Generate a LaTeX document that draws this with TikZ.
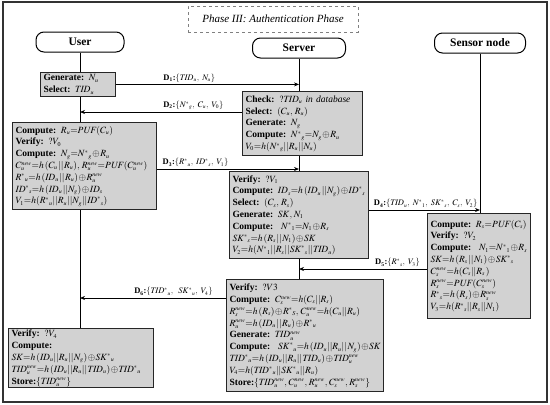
\documentclass[tikz,border=0pt]{standalone}
\usepackage{mathptmx}
\usepackage[no-math]{fontspec}
\setmainfont{Liberation Serif}
\usetikzlibrary{arrows.meta}
\DeclareMathSizes{9.5}{9.5}{6}{5}
\DeclareMathSizes{8.5}{8.5}{5.5}{4.5}
\newcommand{\bx}[1]{\textbf{#1}}
\newcommand{\mTID}{\mathit{TID}}
\newcommand{\mID}{\mathit{ID}}
\newcommand{\mPUF}{\mathit{PUF}}
\newcommand{\mSK}{\mathit{SK}}
\newcommand{\nw}{\mathit{new}}
\newcommand{\st}[2]{#1^{*}{}_{#2}}
\thickmuskip=1mu
\medmuskip=1mu
\begin{document}
\begin{tikzpicture}[x=1pt,y=-1pt,
  box/.style={draw=black!85, line width=1.2pt, fill=gray!35, anchor=north west,
    inner xsep=3pt, inner ysep=0pt, align=left, font=\fontsize{9.5}{11.8}\selectfont},
  actor/.style={draw, line width=1pt, rounded corners=8pt, minimum height=20pt,
    font=\fontsize{11.5}{13}\bfseries\selectfont},
  arr/.style={line width=0.8pt, -{Stealth[length=5pt,width=4pt]}},
  life/.style={line width=0.8pt},
  lbl/.style={font=\fontsize{8.5}{10}\selectfont, inner sep=1.5pt}]

\useasboundingbox (0,0) rectangle (550,405);
\draw[line width=1.2pt, draw=black!80] (3,2) rectangle (547,402);

\node[draw=gray, dashed, line width=0.8pt, minimum width=170pt, minimum height=26pt,
  font=\fontsize{11}{13}\itshape\selectfont] (title) at (273,19) {Phase III: Authentication Phase};

\node[actor, minimum width=88pt] (user) at (80,42) {User};
\node[actor, minimum width=93pt] (srv) at (299,48) {Server};
\node[actor, minimum width=91pt] (sen) at (480,43) {Sensor node};

\node[box, text width=69pt, minimum height=23pt] (U1) at (40,72) {\begin{tabular}{@{}l@{}}
\bx{Generate:} $N_u$\\
\bx{Select:} $\mTID_u$
\end{tabular}};

\node[box, text width=114pt, minimum height=64pt] (S1) at (242,91) {\begin{tabular}{@{}l@{}}
\bx{Check:} $?\mTID_u$ \textit{in database}\\
\bx{Select:} $(C_u,\, R_u)$\\
\bx{Generate:} $N_g$\\
\bx{Compute:} $\st{N}{g}{=}N_g\oplus R_u$\\
$V_0{=}h(\st{N}{g}||R_u||N_u)$
\end{tabular}};

\node[box, text width=138pt, minimum height=87pt] (U2) at (12,122) {\begin{tabular}{@{}l@{}}
\bx{Compute:} $R_u{=}\mPUF(C_u)$\\
\bx{Verify:} $?V_0$\\
\bx{Compute:} $N_g{=}\st{N}{g}\oplus R_u$\\
$C_u^{\nw}{=}h\,(C_u\;||\;R_u),\, R_u^{\nw}{=}\mPUF(C_u^{\nw})$\\
$\st{R}{u}{=}h\,(\mID_u\;||\;R_u)\oplus R_u^{\nw}$\\
$\st{\mID}{s}{=}h\,(\mID_u\;||N_g)\oplus \mID_s$\\
$V_1{=}h(\st{R}{u}||R_u||N_g||\st{\mID}{s})$
\end{tabular}};

\node[box, text width=133pt, minimum height=87pt] (S2) at (229,171) {\begin{tabular}{@{}l@{}}
\bx{Verify:} $?V_1$\\
\bx{Compute:} $\mID_s{=}h\,(\mID_u\;||N_g)\oplus \st{\mID}{s}$\\
\bx{Select:} $(C_s,\, R_s)$\\
\bx{Generate:} $\mSK,\; N_1$\\
\bx{Compute:} \ $\st{N}{1}{=}N_1\oplus R_s$\\
$\st{\mSK}{s}{=}h\,(R_s\;||\;N_1)\oplus \mSK$\\
$V_2{=}h(\st{N}{1}||R_s||\st{\mSK}{s}||\mTID_u)$
\end{tabular}};

\node[box, text width=97pt, minimum height=105pt] (N1) at (427,213) {\begin{tabular}{@{}l@{}}
\bx{Compute:} $R_s{=}\mPUF(C_s)$\\
\bx{Verify:} $?V_2$\\
\bx{Compute:} \ $N_1{=}\st{N}{1}\oplus R_s$\\
$\mSK{=}h\,(R_s\;||\;N_1)\oplus \st{\mSK}{s}$\\
$C_s^{\nw}{=}h(C_s||R_s\,)$\\
$R_s^{\nw}{=}\mPUF(C_s^{\nw})$\\
$\st{R}{s}{=}h\,(R_s)\oplus R_s^{\nw}$\\
$V_3{=}h(\st{R}{s}||R_s||N_1)$
\end{tabular}};

\node[box, text width=151pt, minimum height=112pt] (S3) at (226,279) {\begin{tabular}{@{}l@{}}
\bx{Verify:} $?V3$\\
\bx{Compute:} $C_s^{\nw}{=}h(C_s||R_s)$\\
$R_s^{\nw}{=}h\,(R_s)\oplus \st{R}{S},\, C_u^{\nw}{=}h(C_u||R_u)$\\
$R_u^{\nw}{=}h\,(\mID_u\;||\;R_u)\oplus \st{R}{u}$\\
\bx{Generate:} $\mTID_u^{\nw}$\\
\bx{Compute:} \ $\st{\mSK}{u}{=}h\,(\mID_u||R_u||\;N_g)\oplus \mSK$\\
$\st{\mTID}{u}{=}h\,(\mID_u||R_u||\;\mTID_u)\oplus \mTID_u^{\nw}$\\
$V_4{=}h(\st{\mTID}{u}||\st{\mSK}{u}||R_u)$\\
\bx{Store:}$\{\mTID_u^{\nw},\; C_u^{\nw},\; R_u^{\nw},\; C_s^{\nw},\; R_s^{\nw}\}$
\end{tabular}};

\node[box, text width=139pt, minimum height=59pt] (U3) at (8,328) {\begin{tabular}{@{}l@{}}
\bx{Verify:} $?V_4$\\
\bx{Compute:}\\
$\mSK{=}h\,(\mID_u||R_u||\;N_g)\oplus \st{\mSK}{u}$\\
$\mTID_u^{\nw}{=}h\,(\mID_u||R_u||\;\mTID_u)\oplus \st{\mTID}{u}$\\
\bx{Store:}$\{\mTID_u^{\nw}\}$
\end{tabular}};

% lifelines
\draw[life] (user.south) -- (user.south |- U1.north);
\draw[life] (user.south |- U1.south) -- (user.south |- U2.north);
\draw[life] (user.south |- U2.south) -- (user.south |- U3.north);
\draw[life] (srv.south) -- (srv.south |- S1.north);
\draw[life] (srv.south |- S1.south) -- (srv.south |- S2.north);
\draw[life] (srv.south |- S2.south) -- (srv.south |- S3.north);
\draw[life] (sen.south) -- (sen.south |- N1.north);

% messages
\draw[arr] (U1.east) -- (U1.east -| srv.south)
  node[lbl, pos=.40, above] {\bx{D\textsubscript{1}:}$\{\mTID_u,\ N_u\}$};
\draw[arr] ([yshift=-21pt]S1.north west) coordinate (d2s) -- (d2s -| user.south)
  node[lbl, pos=.30, above] {\bx{D\textsubscript{2}:}$\{\st{N}{g},\ C_u,\ V_0\}$};
\draw[arr] ([yshift=-47pt]U2.north east) coordinate (d3s) -- (d3s -| srv.south)
  node[lbl, pos=.27, above] {\bx{D\textsubscript{3}:}$\{\st{R}{u},\ \st{\mID}{s},\ V_1\}$};
\draw[arr] ([yshift=-39pt]S2.north east) coordinate (d4s) -- (d4s -| sen.south)
  node[lbl, pos=.51, above] {\bx{D\textsubscript{4}:}$\{\mTID_u,\ \st{N}{1},\ \st{\mSK}{s},\ C_s,\ V_2\}$};
\draw[arr] ([yshift=-56pt]N1.north west) coordinate (d5s) -- (d5s -| srv.south)
  node[lbl, pos=.23, above] {\bx{D\textsubscript{5}:}$\{\st{R}{s},\ V_3\}$};
\draw[arr] ([yshift=-19pt]S3.north west) coordinate (d6s) -- (d6s -| user.south)
  node[lbl, pos=.36, above] {\bx{D\textsubscript{6}:}$\{\st{\mTID}{u},\ \ \st{\mSK}{u},\ V_4\}$};
\end{tikzpicture}
\end{document}
